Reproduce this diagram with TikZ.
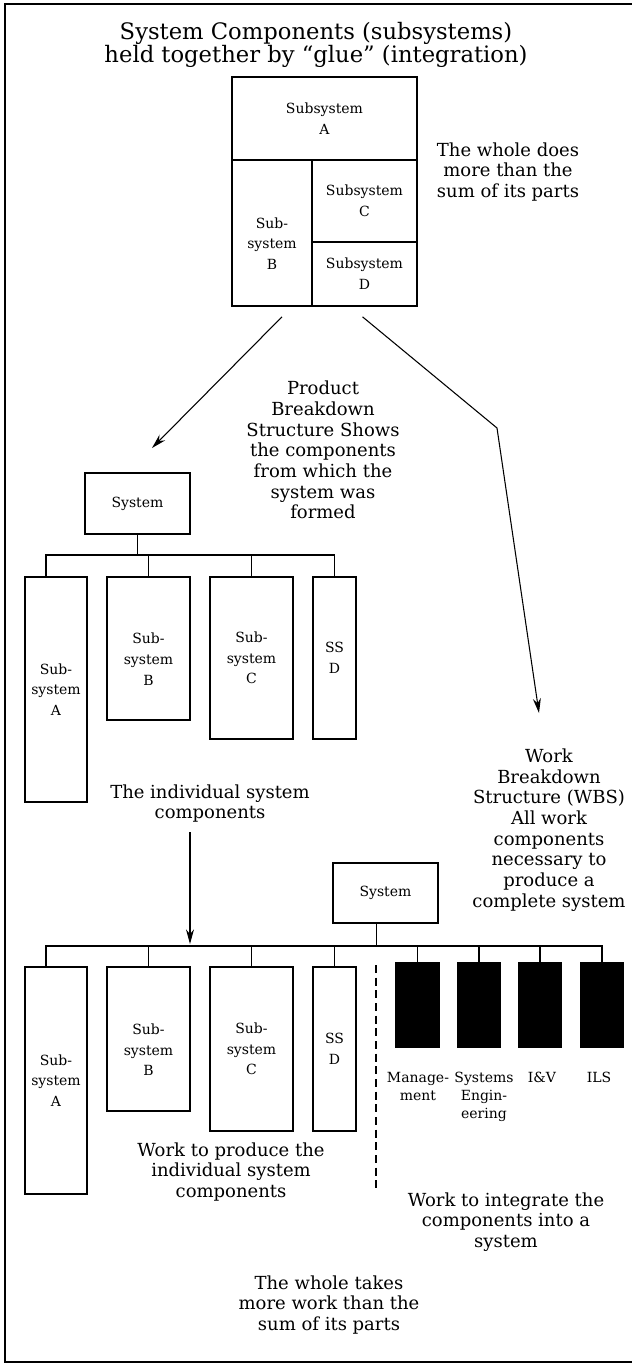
\documentclass[tikz,border=0pt]{standalone}
\usepackage{fontspec}
\setmainfont{DejaVu Serif}
\usetikzlibrary{arrows.meta}
\begin{document}
\begin{tikzpicture}[x=0.75pt,y=-0.75pt,
  box/.style={draw, line width=1.2pt, inner sep=0pt, align=center, font=\fontsize{10.5}{15.5}\selectfont},
  lowtxt/.style={align=center, inner sep=0pt, font=\fontsize{10.5}{15.5}\selectfont, yshift=-8pt},
  txt/.style={align=center, inner sep=0pt, font=\fontsize{13.5}{15.5}\selectfont},
  lbl/.style={align=center, inner sep=0pt, font=\fontsize{10.5}{13.5}\selectfont},
  blk/.style={draw, fill=black, line width=1.2pt, inner sep=0pt},
  wire/.style={line width=1pt},
  arr/.style={line width=0.8pt, -{Stealth[length=11pt,width=6pt]}},
  sz/.style 2 args={minimum width={#1*0.75pt}, minimum height={#2*0.75pt}}]
\useasboundingbox (0,0) rectangle (632,1365);
\draw[line width=1.5pt] (632,4) -- (5,4) -- (5,1362) -- (632,1362);

\node[align=center, inner sep=0pt, font=\fontsize{17}{17.25}\selectfont] (title) at (316,45)
  {System Components (subsystems)\\held together by ``glue'' (integration)};

\node[box, sz={185}{83}] (ssA) at (324.5,118.5) {Subsystem\\A};
\node[box, sz={80}{146}, label={[lowtxt]center:{Sub-\\system\\B}}] (ssB) at (272,233) {};
\node[box, sz={105}{82}] (ssC) at (364.5,201) {Subsystem\\C};
\node[box, sz={105}{64}] (ssD) at (364.5,274) {Subsystem\\D};
\node[txt] (more) at (508,172) {The whole does\\more than the\\sum of its parts};

\coordinate (pbstip) at (152,448);
\coordinate (wbsbend) at (497,428);
\coordinate (wbstip) at (539,713);
\draw[arr] ([shift={(10,10)}]ssB.south) -- (pbstip);
\draw[arr] ([shift={(-2,10)}]ssD.south) -- (wbsbend) -- (wbstip);

\node[txt] (pbstxt) at (323,450) {Product\\Breakdown\\Structure Shows\\the components\\from which the\\system was\\formed};

\node[box, sz={105}{61}] (psys) at (137.5,503.5) {System};
\node[box, sz={62}{225}] (pA) at (56,689.5) {Sub-\\system\\A};
\node[box, sz={83}{143}, label={[lowtxt]center:{Sub-\\system\\B}}] (pB) at (148.5,648.5) {};
\node[box, sz={83}{162}] (pC) at (251.5,658) {Sub-\\system\\C};
\node[box, sz={43}{162}] (pD) at (334.5,658) {SS\\D};
\coordinate (pbar) at (0,555);
\draw[wire] (psys) -- (psys |- pbar);
\draw[wire] ([xshift=-7.5pt]pA.north) |- (pD.north |- pbar) -- (pD.north);
\foreach \n in {pB,pC}
  \draw[wire] (\n.north) -- (\n.north |- pbar);

\node[txt] (indiv) at (210,803.5) {The individual system\\components};
\coordinate (dtop) at (190,832);
\coordinate (dtip) at (190,944);
\draw[arr] (dtop) -- (dtip);

\node[txt] (wbstxt) at (549,830) {Work\\Breakdown\\Structure (WBS)\\All work\\components\\necessary to\\produce a\\complete system};

\node[box, sz={105}{60}] (wsys) at (385.5,893) {System};
\node[box, sz={62}{227}] (wA) at (56,1080.5) {Sub-\\system\\A};
\node[box, sz={83}{144}, label={[lowtxt]center:{Sub-\\system\\B}}] (wB) at (148.5,1039) {};
\node[box, sz={83}{164}] (wC) at (251.5,1049) {Sub-\\system\\C};
\node[box, sz={43}{164}] (wD) at (334.5,1049) {SS\\D};
\foreach \n/\x in {k1/417.5,k2/479,k3/540,k4/602}
  \node[blk, sz={43}{84}] (\n) at (\x,1005) {};
\coordinate (wbar) at (0,946);
\draw[wire] ([xshift=-7pt]wsys.south) -- ++(0,23);
\draw[wire] ([xshift=-7.5pt]wA.north) |- (k4.north |- wbar) -- (k4.north);
\foreach \n in {wB,wC,wD,k1,k2,k3}
  \draw[wire] (\n.north) -- (\n.north |- wbar);
\draw[wire, dash pattern=on 6pt off 3.5pt] (376,965) -- (376,1192);

\node[lbl, anchor=north] (mgmt) at (418,1072) {Manage-\\ment};
\node[lbl, anchor=north] (syseng) at (484,1072) {Systems\\Engin-\\eering};
\node[lbl, anchor=north] (iv) at (542,1072) {I\&V};
\node[lbl, anchor=north] (ils) at (599,1072) {ILS};

\node[txt] (prodwork) at (231,1172) {Work to produce the\\individual system\\components};
\node[txt] (intwork) at (506,1222) {Work to integrate the\\components into a\\system};
\node[txt] (takes) at (329,1305) {The whole takes\\more work than the\\sum of its parts};
\end{tikzpicture}
\end{document}
